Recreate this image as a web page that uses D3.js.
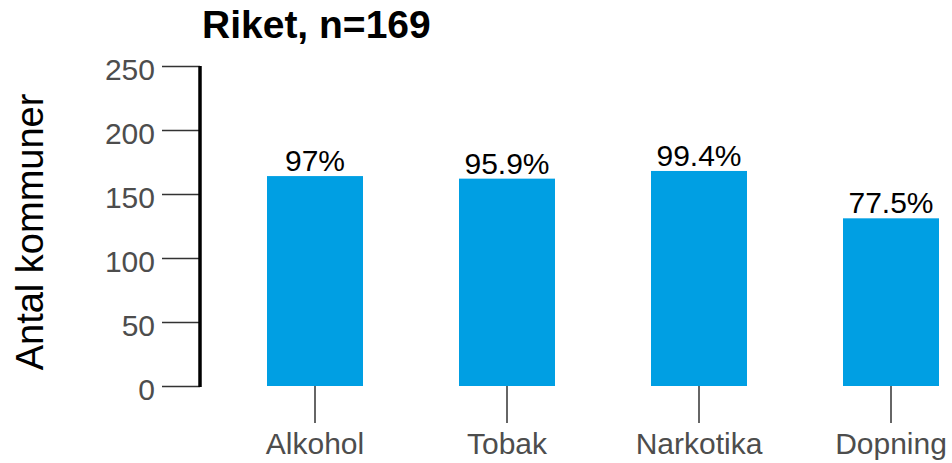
<!DOCTYPE html>
<html>
<head>
<meta charset="utf-8">
<script src="https://cdn.jsdelivr.net/npm/d3@7"></script>
<style>
  body { margin: 0; background: #fff; }
  text { font-family: "Liberation Sans", Arial, sans-serif; }
</style>
</head>
<body>
<div id="chart"></div>
<script>
const categories = ["Alkohol", "Tobak", "Narkotika", "Dopning"];
const counts = [164, 162, 168, 131];
const shares = ["97%", "95.9%", "99.4%", "77.5%"];
const yTicks = [0, 50, 100, 150, 200, 250];
const title = "Riket, n=169";

const width = 952, height = 463;

const svg = d3.select("#chart").append("svg")
    .attr("width", width)
    .attr("height", height)

const x = d3.scaleBand()
    .domain(categories)
    .range([219, 987])
    .paddingInner(0.5)
    .paddingOuter(0.25)

const y = d3.scaleLinear()
    .domain([0, 250])
    .range([386, 66])

// y axis
const yAxis = svg.append("g")
    .attr("transform", "translate(200,0)")
    .call(d3.axisLeft(y).tickValues(yTicks).tickSize(38).tickPadding(7))
yAxis.select(".domain").remove()
yAxis.selectAll(".tick line").attr("stroke", "#333").attr("stroke-width", 1.5)
yAxis.selectAll(".tick text")
    .attr("fill", "#4d4d4d")
    .attr("font-size", "30px")
    .attr("dy", "0.45em")
svg.append("line")
    .attr("x1", 200).attr("x2", 200)
    .attr("y1", y(250)).attr("y2", y(0) + 1)
    .attr("stroke", "#000")
    .attr("stroke-width", 3.5)

// x axis (ticks only)
const xAxis = svg.append("g")
    .attr("transform", "translate(0," + y(0) + ")")
    .call(d3.axisBottom(x).tickSize(37))
xAxis.select(".domain").remove()
xAxis.selectAll(".tick line").attr("stroke", "#333").attr("stroke-width", 1.5)
xAxis.selectAll(".tick text")
    .attr("fill", "#4d4d4d")
    .attr("font-size", "30px")
    .attr("y", 68)
    .attr("dy", 0)

// bars
svg.append("g")
  .selectAll("rect")
  .data(categories)
  .join("rect")
    .attr("x", d => x(d))
    .attr("width", x.bandwidth())
    .attr("y", (d, i) => y(counts[i]))
    .attr("height", (d, i) => y(0) - y(counts[i]))
    .attr("fill", "#009fe3")

// value labels
svg.append("g")
  .selectAll("text")
  .data(categories)
  .join("text")
    .attr("x", d => x(d) + x.bandwidth() / 2)
    .attr("y", (d, i) => y(counts[i]) - 5)
    .attr("text-anchor", "middle")
    .attr("font-size", "30px")
    .attr("fill", "#000")
    .text((d, i) => shares[i])

// title
svg.append("text")
    .attr("x", 202)
    .attr("y", 38)
    .attr("font-size", "39px")
    .attr("font-weight", "bold")
    .attr("fill", "#000")
    .text(title)

// y label
svg.append("text")
    .attr("transform", "translate(43,232) rotate(-90)")
    .attr("text-anchor", "middle")
    .attr("font-size", "38px")
    .attr("fill", "#000")
    .text("Antal kommuner")
</script>
</body>
</html>
